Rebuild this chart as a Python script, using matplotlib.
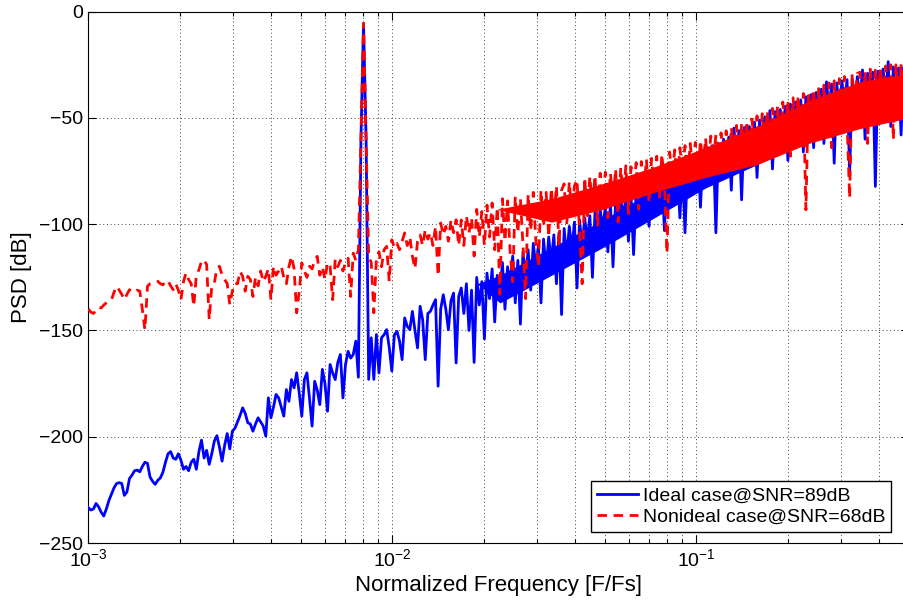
import numpy as np
import matplotlib
matplotlib.use("Agg")
from matplotlib import pyplot as plt
from matplotlib.ticker import LogLocator, NullFormatter

# PSD [dB], one value per point of a log-spaced
# frequency grid running from 1e-3 to 0.5 (F/Fs)
psd_ideal_low = [
    -233.4, -234.5, -234, -231.4, -233, -235.5, -237.3, -234, -230, -227,
    -224, -222, -221.6, -222, -227.6, -226, -219.7, -218, -216, -215.7,
    -216.5, -214, -212, -212.5, -219, -221, -222.4, -220.5, -219.4, -216.7,
    -212, -208, -207, -210, -210.6, -208, -211, -215.3, -214, -216,
    -212, -210.6, -215.3, -207, -201.6, -210, -206.4, -213, -208, -202,
    -199.5, -205, -211.5, -204, -198.5, -205.7, -197.4, -196, -193, -190,
    -186.4, -189, -193.4, -194, -197.4, -194, -191.1, -193, -195, -199.7,
    -181.7, -191.1, -186, -180.1, -181.7, -186, -190.3, -177.8, -183.3, -173.1,
    -177, -169.9, -179.4, -190.3, -173.1, -169.9, -182, -195, -173.9, -178,
    -184.9, -168.3, -175, -188, -166, -170, -173.1, -165, -161.3, -181.7,
    -166, -159.8, -163, -161.3, -155, -172, -60, -5.5, -60, -173,
    -153.4, -173, -151.9, -170, -153.4, -152, -149.6, -158, -169.1, -152,
    -150.4, -155, -163.7, -144.1, -148, -149.6, -141, -150, -158.2, -138.6,
    -145, -163.7, -142, -141, -138, -135.5, -176.2, -140, -133.2, -140,
    -149.6, -136, -132.4, -165.3, -134,
]
psd_ideal_high = [
    -130, -142, -128, -150, -131, -165, -125, -138, -127, -154,
    -123, -135, -121, -146, -124, -133, -118, -140, -120, -128,
    -115, -137, -117, -147, -113, -126, -112, -131, -109, -120,
    -110, -137, -107, -122, -106, -118, -105, -128, -104, -142.5,
    -102, -116, -101, -112, -99, -130, -98, -111, -97, -108,
    -96, -125, -94, -106, -93, -102, -92, -113, -90, -120,
    -89, -100, -88, -97, -87, -108, -86, -114.3, -84, -95,
    -83, -93, -81, -101, -80, -90, -78, -88, -77, -103,
    -75, -86, -74, -84, -73, -97, -72, -104, -70, -80,
    -69, -78, -67, -92, -66, -76, -64, -74, -63, -104,
    -62, -72, -60, -70, -59, -84, -54.8, -69, -56, -88.5,
    -54.5, -66, -54, -64, -52, -78, -51, -62, -49.5, -60,
    -46.5, -74, -47, -58, -46, -56, -44.5, -70, -43.5, -54,
    -42.5, -52, -41.5, -66, -40, -50, -39, -64, -38, -48,
    -36.5, -62, -33, -46, -34, -71.3, -33.5, -48, -32.5, -44,
    -32, -76, -31.5, -46, -30.5, -42, -27.4, -60, -29, -43,
    -28.5, -82.2, -28, -45, -27, -40, -23.5, -54, -26, -42,
    -26.5, -58, -26, -40, -27,
]

psd_nonideal_low = [
    -139.9, -141.4, -142, -140.5, -139, -139.4, -138, -137, -136, -135.5,
    -132, -129.2, -131, -133, -135.5, -133, -130.8, -131.5, -132, -131,
    -131.5, -140, -149.6, -129.2, -128, -127.5, -127, -126.9, -128, -128.5,
    -127, -126.5, -129, -130.8, -128, -131, -135.5, -127, -122.9, -126,
    -128, -138.6, -124, -121.4, -117.5, -116.7, -119, -144.9, -129, -127.7,
    -120.6, -119.8, -124, -126, -128, -137.8, -131.5, -127.7, -128, -122.2,
    -124.5, -131.5, -124.5, -126, -134, -125, -129, -122, -127, -124.5,
    -121, -135.5, -119.8, -124, -122, -119.8, -125, -128, -120, -115.1,
    -121, -141.7, -131.5, -118.2, -122, -125, -119.8, -121, -117, -115.1,
    -124, -120, -126, -118, -119.8, -135.5, -116.6, -120, -117, -122,
    -118, -116, -134, -113.6, -117, -112, -60, -5.5, -60, -115.1,
    -118, -141.7, -116, -113, -120, -112, -110.4, -126.9, -107.3, -111,
    -109, -112, -108, -104.1, -110, -106, -115, -120.9, -108, -105,
    -110, -102.6, -107, -104, -110, -101, -124.3, -99.4, -105, -101,
    -108, -98, -104, -97.9, -110,
]
psd_nonideal_high = [
    -98, -110, -96, -104, -97, -115, -93, -106, -94, -110,
    -91, -106, -90, -112, -92, -133, -88, -108, -89, -113,
    -127, -87, -104, -88, -110, -135, -86, -103, -85, -108,
    -120, -84, -101, -85, -106, -83, -98, -82, -110, -84,
    -81, -100, -80, -95, -82, -79, -104, -128, -78, -96,
    -77.5, -93, -77, -101, -76, -91, -75.5, -97, -76, -90,
    -74, -99, -73.5, -88, -72.5, -95, -73, -87, -71, -93,
    -70.5, -84, -69.5, -90, -69, -83, -68, -88, -67, -81,
    -113.6, -66, -78, -65, -82, -64, -76, -63, -80, -62,
    -74, -61.5, -78, -60.5, -72, -59.5, -76, -58.5, -70, -58,
    -75, -57, -68, -56, -73, -54.5, -66, -53.5, -70, -52.5,
    -64, -51.5, -71, -50.5, -62, -49, -68, -48, -60, -46.5,
    -66, -45.5, -58, -44, -64, -42.5, -56, -41.5, -68, -40.5,
    -54, -39.5, -60, -38.5, -93.2, -37.5, -52, -36.5, -58, -35.5,
    -50, -34.5, -56, -33.5, -64, -32.5, -54, -31.5, -46, -30.5,
    -52, -87.7, -29.5, -46, -29, -28.5, -50, -28, -62, -27,
    -48, -26.5, -42, -26, -46, -25.5, -41, -25, -60, -25,
    -40, -24.5, -44, -24.5, -42,
]

# solid core of the dense noise band at high frequencies
ideal_band_freq = [0.019, 0.0226, 0.0334, 0.0492, 0.0727, 0.107, 0.158, 0.234, 0.345, 0.5]
ideal_band_hi = [-128, -124, -111, -98, -84, -69, -57, -45, -35, -31]
ideal_band_lo = [-128, -137, -124, -111, -97, -83, -72, -60, -50, -46]

nonideal_band_freq = [0.022, 0.0334, 0.0492, 0.0727, 0.107, 0.158, 0.234, 0.345, 0.5]
nonideal_band_hi = [-93, -88, -81, -73, -64, -54, -42, -33, -29]
nonideal_band_lo = [-93, -99, -93, -85, -78, -72, -62, -55, -50]

labels = ["Ideal case@SNR=89dB", "Nonideal case@SNR=68dB"]

plt.rcParams["font.family"] = ["Liberation Sans", "DejaVu Sans"]
plt.rcParams["mathtext.fontset"] = "custom"
plt.rcParams["mathtext.rm"] = "Liberation Sans"
plt.rcParams["mathtext.it"] = "Liberation Sans:italic"

psd_ideal = psd_ideal_low + psd_ideal_high
psd_nonideal = psd_nonideal_low + psd_nonideal_high
freq = np.geomspace(1e-3, 0.5, len(psd_ideal))

fig = plt.figure(figsize=(9.04, 6.01), dpi=100)
# right edge of the axes sits just outside the picture, like the original
ax = fig.add_axes([0.0977, 0.0965, 0.9076, 0.884])

ax.fill_between(ideal_band_freq, ideal_band_lo, ideal_band_hi, color="#0000ff", lw=0, zorder=2)
line_ideal, = ax.plot(freq, psd_ideal, color="#0000ff", lw=2, zorder=3)
ax.fill_between(nonideal_band_freq, nonideal_band_lo, nonideal_band_hi, color="#ff0000", lw=0, zorder=4)
line_nonideal, = ax.plot(freq, psd_nonideal, color="#ff0000", lw=2, dashes=(3.4, 2.4), zorder=5)

ax.set_xscale("log")
ax.set_xlim(1e-3, 0.5)
ax.set_ylim(-250, 0)
ax.set_yticks(range(-250, 1, 50))
ax.xaxis.set_major_locator(LogLocator(base=10, numticks=10))
ax.xaxis.set_minor_locator(LogLocator(base=10, subs=np.arange(2, 10), numticks=20))
ax.xaxis.set_minor_formatter(NullFormatter())

ax.tick_params(which="both", direction="in", top=True, right=True, labelsize=14, width=0.8)
ax.tick_params(which="major", length=6, pad=4)
ax.tick_params(which="minor", length=3)
for spine in ax.spines.values():
    spine.set_linewidth(0.8)

grid_style = dict(color="0.25", lw=0.7, ls=(0, (1, 2.8)))
ax.grid(True, which="major", axis="both", **grid_style)
ax.grid(True, which="minor", axis="x", **grid_style)
ax.set_axisbelow(True)

ax.set_xlabel("Normalized Frequency [F/Fs]", fontsize=16, labelpad=3)
ax.set_ylabel("PSD [dB]", fontsize=16, labelpad=5)

ax.legend([line_ideal, line_nonideal], labels, loc="lower right",
          bbox_to_anchor=(0.986, 0.1153), bbox_transform=fig.transFigure,
          borderaxespad=0, fontsize=14, handlelength=2.1, handletextpad=0.25,
          labelspacing=0.2, borderpad=0.3, fancybox=False, framealpha=1,
          edgecolor="black")

fig.savefig("out.png", dpi=100)
